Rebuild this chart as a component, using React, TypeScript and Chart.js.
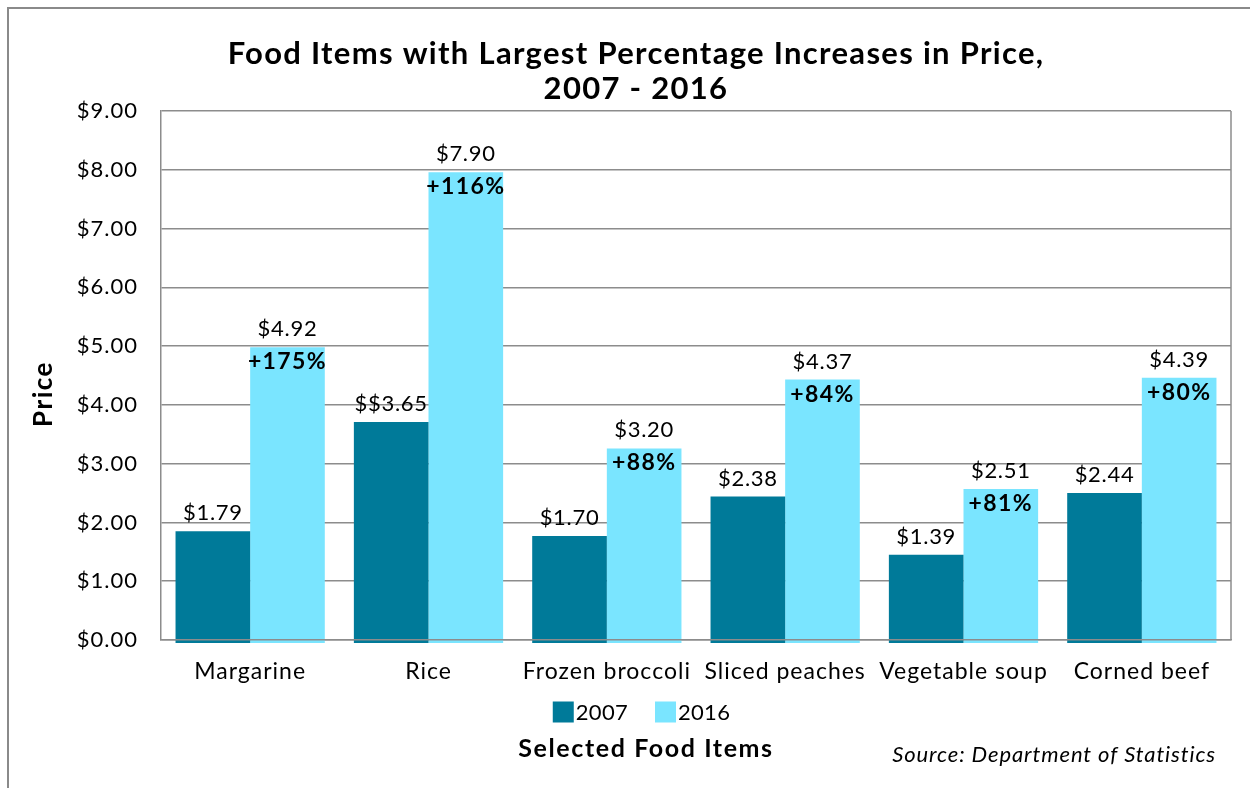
import React, { useEffect, useRef } from "react";
import { Chart, registerables } from "chart.js";

Chart.register(...registerables);

const CATEGORIES = ["Margarine", "Rice", "Frozen broccoli", "Sliced peaches", "Vegetable soup", "Corned beef"];
const SERIES_NAMES = ["2007", "2016"];
const PRICE_2007 = [1.85, 3.71, 1.77, 2.44, 1.45, 2.5];
const PRICE_2016 = [4.98, 7.96, 3.26, 4.43, 2.57, 4.46];
const LABELS_2007 = ["$1.79", "$$3.65", "$1.70", "$2.38", "$1.39", "$2.44"];
const LABELS_2016 = ["$4.92", "$7.90", "$3.20", "$4.37", "$2.51", "$4.39"];
const PCT_2016 = ["+175%", "+116%", "+88%", "+84%", "+81%", "+80%"];
const Y_MIN = 0;
const Y_MAX = 9;
const Y_STEP = 1;
const TITLE_LINES = ["Food Items with Largest Percentage Increases in Price,", "2007 - 2016"];
const Y_TITLE = "Price";
const X_TITLE = "Selected Food Items";
const SOURCE = "Source: Department of Statistics";

const DARK = "#007A99";
const LIGHT = "#7AE5FF";
const GRID = "#8c8c8c";
const FONT = "Lato, 'Open Sans', sans-serif";

function spaced(ctx: any, px: number) {
  try {
    ctx.letterSpacing = px + "px";
  } catch (e) {}
}

const decorPlugin = {
  id: "decor",
  beforeDraw(chart: any) {
    const ctx = chart.ctx;
    ctx.save();
    ctx.fillStyle = "#ffffff";
    ctx.fillRect(0, 0, chart.width, chart.height);
    ctx.strokeStyle = "#8a8a8a";
    ctx.lineWidth = 2;
    ctx.beginPath();
    ctx.moveTo(8, chart.height);
    ctx.lineTo(8, 8);
    ctx.lineTo(chart.width, 8);
    ctx.stroke();
    ctx.restore();
    spaced(ctx, 1);
  },
  afterDatasetsDraw(chart: any) {
    const ctx = chart.ctx;
    const a = chart.chartArea;
    ctx.save();
    ctx.strokeStyle = GRID;
    ctx.lineWidth = 1.5;
    ctx.beginPath();
    ctx.moveTo(a.right, a.top);
    ctx.lineTo(a.right, a.bottom);
    ctx.stroke();

    ctx.fillStyle = "#000";
    ctx.textAlign = "center";
    ctx.textBaseline = "alphabetic";
    const m0 = chart.getDatasetMeta(0);
    const m1 = chart.getDatasetMeta(1);
    m0.data.forEach((bar: any, i: number) => {
      ctx.font = `400 22px ${FONT}`;
      spaced(ctx, 0.7);
      ctx.fillText(LABELS_2007[i], bar.x, bar.y - 11);
    });
    m1.data.forEach((bar: any, i: number) => {
      ctx.font = `400 22px ${FONT}`;
      spaced(ctx, 0.7);
      ctx.fillText(LABELS_2016[i], bar.x, bar.y - 11);
      ctx.font = `700 23px ${FONT}`;
      spaced(ctx, 1.4);
      ctx.fillText(PCT_2016[i], bar.x, bar.y + 22);
    });
    ctx.restore();
  },
  afterDraw(chart: any) {
    const ctx = chart.ctx;
    ctx.save();
    ctx.fillStyle = "#000";
    ctx.textAlign = "center";
    ctx.textBaseline = "alphabetic";
    ctx.font = `700 31px ${FONT}`;
    spaced(ctx, 1.3);
    ctx.fillText(TITLE_LINES[0], 636, 64);
    ctx.fillText(TITLE_LINES[1], 636, 99);

    // x title
    ctx.font = `700 25px ${FONT}`;
    spaced(ctx, 1.6);
    ctx.fillText(X_TITLE, 646, 757);

    // source
    ctx.font = `italic 400 22px ${FONT}`;
    spaced(ctx, 0.9);
    ctx.textAlign = "right";
    ctx.fillText(SOURCE, 1216, 762);

    // y title
    ctx.save();
    ctx.translate(52, 394);
    ctx.rotate(-Math.PI / 2);
    ctx.textAlign = "center";
    ctx.font = `700 26px ${FONT}`;
    spaced(ctx, 1.5);
    ctx.fillText(Y_TITLE, 0, 0);
    ctx.restore();

    // legend
    ctx.font = `400 22px ${FONT}`;
    spaced(ctx, 0.3);
    const box = 21;
    const gapText = 2;
    const gapItem = 27;
    const items = chart.data.datasets.map((d: any) => ({
      label: d.label,
      color: d.backgroundColor,
      w: box + gapText + ctx.measureText(d.label).width,
    }));
    const total = items.reduce((s: number, it: any) => s + it.w, 0) + gapItem * (items.length - 1);
    let x = 641.5 - total / 2;
    const cy = 712;
    ctx.textAlign = "left";
    ctx.textBaseline = "middle";
    items.forEach((it: any) => {
      ctx.fillStyle = it.color;
      ctx.fillRect(x, cy - box / 2, box, box);
      ctx.fillStyle = "#000";
      ctx.fillText(it.label, x + box + gapText, cy + 1);
      x += it.w + gapItem;
    });
    ctx.restore();
  },
};

export default function App() {
  const ref = useRef<HTMLCanvasElement | null>(null);
  useEffect(() => {
    if (!ref.current) return;
    const chart = new Chart(ref.current, {
      type: "bar",
      data: {
        labels: CATEGORIES,
        datasets: [
          {
            label: SERIES_NAMES[0],
            data: PRICE_2007,
            backgroundColor: DARK,
            base: -0.05,
            clip: false as any,
          },
          {
            label: SERIES_NAMES[1],
            data: PRICE_2016,
            backgroundColor: LIGHT,
            base: -0.05,
            clip: false as any,
          },
        ],
      },
      options: {
        animation: false,
        responsive: false,
        devicePixelRatio: 1,
        layout: { padding: { left: 0, top: 111, right: 19, bottom: 0 } },
        datasets: { bar: { categoryPercentage: 0.837, barPercentage: 1.0 } },
        plugins: {
          legend: { display: false },
          title: { display: false },
          tooltip: { enabled: false },
        },
        scales: {
          x: {
            grid: { display: false, drawTicks: false },
            border: { display: true, color: GRID, width: 1.5, z: 1 },
            ticks: { color: "#000", font: { family: FONT, size: 23 }, padding: 18, maxRotation: 0, autoSkip: false },
            afterFit(scale: any) {
              scale.height = 148;
            },
          },
          y: {
            min: Y_MIN,
            max: Y_MAX,
            grid: { color: GRID, lineWidth: 1.5, drawTicks: false },
            border: { display: true, color: GRID, width: 1.5 },
            ticks: {
              stepSize: Y_STEP,
              color: "#000",
              font: { family: FONT, size: 22 },
              padding: 23,
              callback: (v: any) => "$" + Number(v).toFixed(2),
            },
            afterFit(scale: any) {
              scale.width = 161;
            },
          },
        },
      },
      plugins: [decorPlugin],
    });
    return () => chart.destroy();
  }, []);
  return (
    <div style={{ position: "absolute", left: 0, top: 0, width: 1250, height: 788 }}>
      <canvas ref={ref} width={1250} height={788} style={{ width: 1250, height: 788, display: "block" }} />
    </div>
  );
}
